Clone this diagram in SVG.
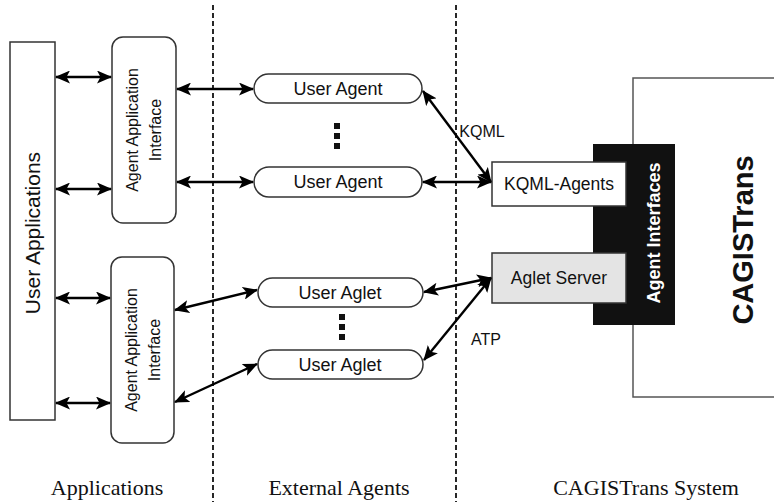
<svg xmlns="http://www.w3.org/2000/svg" width="774" height="502" viewBox="0 0 774 502">
<defs>
<marker id="ah" viewBox="0 0 15 13" refX="14" refY="6.5" markerWidth="15" markerHeight="13" markerUnits="userSpaceOnUse" orient="auto-start-reverse">
<path d="M0,0 L15,6.5 L0,13 L3.5,6.5 Z" fill="#000"/>
</marker>
<style>
.box{fill:#fff;stroke:#333;stroke-width:1.5}
.t{font-family:"Liberation Sans",Arial,sans-serif;fill:#111;text-anchor:middle}
.s{font-family:"Liberation Serif","Times New Roman",serif;fill:#111;text-anchor:middle;font-size:22px}
.dash{stroke:#111;stroke-width:1.8;stroke-dasharray:5,3;fill:none}
.c{stroke:#000;stroke-width:2.4;fill:none;marker-start:url(#ah);marker-end:url(#ah)}
.dot{fill:#111}
</style>
</defs>
<rect width="774" height="502" fill="#fff"/>

<g id="separators">
<line class="dash" x1="213" y1="5" x2="213" y2="502"/>
<line class="dash" x1="456" y1="5" x2="456" y2="502"/>
</g>

<g id="cagistrans-system">
<path d="M774,78 H633 V397 H774" fill="none" stroke="#555" stroke-width="1.5"/>
<text class="t" font-size="29" font-weight="bold" transform="translate(753,240) rotate(-90)">CAGISTrans</text>
</g>

<g id="agent-interfaces">
<rect x="593" y="144" width="82" height="181" fill="#111"/>
<text class="t" font-size="18" font-weight="bold" style="fill:#fff" transform="translate(660,233) rotate(-90)">Agent Interfaces</text>
</g>

<g id="kqml-agents">
<rect class="box" x="492" y="162" width="134" height="44"/>
<text class="t" x="559" y="190" font-size="17.5">KQML-Agents</text>
</g>

<g id="aglet-server">
<rect class="box" x="492" y="253" width="134" height="50" style="fill:#e4e4e4"/>
<text class="t" x="559" y="284" font-size="17.5">Aglet Server</text>
</g>

<g id="user-applications">
<rect class="box" x="10" y="42" width="45" height="378"/>
<text class="t" font-size="21" transform="translate(40,233) rotate(-90)">User Applications</text>
</g>

<g id="aai-top">
<rect class="box" x="112" y="37" width="64" height="186" rx="11"/>
<text class="t" font-size="16" transform="translate(144,130) rotate(-90)"><tspan x="0" y="-6">Agent Application</tspan><tspan x="0" y="17">Interface</tspan></text>
</g>

<g id="aai-bottom">
<rect class="box" x="111" y="257" width="63" height="186" rx="11"/>
<text class="t" font-size="16" transform="translate(143,350) rotate(-90)"><tspan x="0" y="-6">Agent Application</tspan><tspan x="0" y="17">Interface</tspan></text>
</g>

<g id="user-agent-1">
<rect class="box" x="254" y="74" width="168" height="29" rx="14.5"/>
<text class="t" x="338" y="95" font-size="18">User Agent</text>
</g>
<g id="user-agent-2">
<rect class="box" x="254" y="167" width="168" height="30" rx="15"/>
<text class="t" x="338" y="188" font-size="18">User Agent</text>
</g>
<g id="user-agent-dots">
<rect class="dot" x="334" y="123" width="6" height="6"/>
<rect class="dot" x="334" y="133" width="6" height="6"/>
<rect class="dot" x="334" y="143" width="6" height="6"/>
</g>

<g id="user-aglet-1">
<rect class="box" x="258" y="278" width="165" height="29" rx="14.5"/>
<text class="t" x="340" y="299" font-size="18">User Aglet</text>
</g>
<g id="user-aglet-2">
<rect class="box" x="258" y="350" width="165" height="29" rx="14.5"/>
<text class="t" x="340" y="371" font-size="18">User Aglet</text>
</g>
<g id="user-aglet-dots">
<rect class="dot" x="339" y="314" width="6" height="6"/>
<rect class="dot" x="339" y="324" width="6" height="6"/>
<rect class="dot" x="339" y="334" width="6" height="6"/>
</g>

<g id="connectors">
<line class="c" x1="56" y1="77" x2="111" y2="77"/>
<line class="c" x1="56" y1="189" x2="111" y2="189"/>
<line class="c" x1="56" y1="298" x2="110" y2="298"/>
<line class="c" x1="56" y1="403" x2="110" y2="403"/>
<line class="c" x1="177" y1="89" x2="253" y2="89"/>
<line class="c" x1="177" y1="182" x2="253" y2="182"/>
<line class="c" x1="175" y1="310" x2="257" y2="290"/>
<line class="c" x1="175" y1="402" x2="257" y2="364"/>
<line class="c" x1="423" y1="91" x2="491" y2="182"/>
<line class="c" x1="423" y1="182" x2="491" y2="182"/>
<line class="c" x1="424" y1="292" x2="491" y2="278"/>
<line class="c" x1="424" y1="360" x2="491" y2="278"/>
<text class="t" x="482" y="137" font-size="16">KQML</text>
<text class="t" x="486" y="345" font-size="16">ATP</text>
</g>

<g id="column-labels">
<text class="s" x="107" y="495">Applications</text>
<text class="s" x="339" y="495">External Agents</text>
<text class="s" x="646" y="495">CAGISTrans System</text>
</g>
</svg>
